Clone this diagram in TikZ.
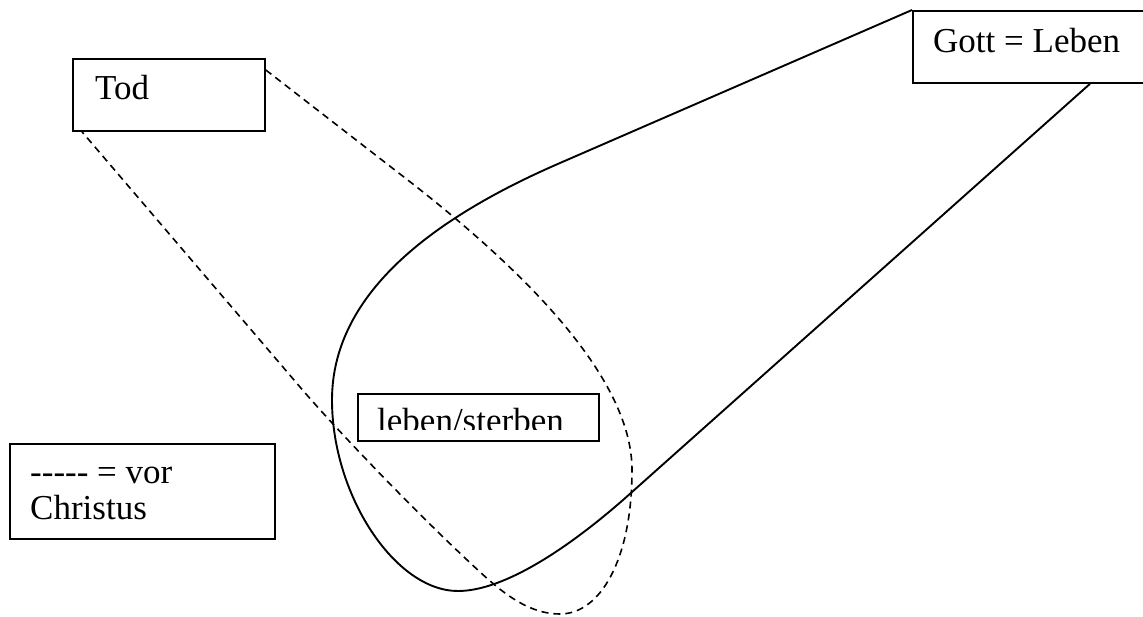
\documentclass[tikz,border=0pt]{standalone}
\usepackage{fontspec}
\setmainfont{Liberation Serif}
\usetikzlibrary{calc}
\begin{document}
\begin{tikzpicture}[x=1pt,y=-1pt,
  box/.style={draw, line width=1.8pt, fill=white, inner sep=0pt, anchor=north west},
  txt/.style={inner sep=0pt, anchor=base west, font=\fontsize{35}{36}\selectfont},
  edge/.style={line width=1.9pt, line join=round, line cap=butt},
  dashedge/.style={edge, line width=1.6pt, dash pattern=on 7pt off 5pt}]
\useasboundingbox (0,0) rectangle (1143,616);
\clip (0,0) rectangle (1143,616);
\fill[white] (0,0) rectangle (1143,616);

% boxes
\node[box, minimum width=192pt, minimum height=72pt] (tod) at (72,58) {};
\node[box, minimum width=250pt, minimum height=72pt] (gott) at (912,10) {};
\node[box, minimum width=241pt, minimum height=47pt] (leben) at (357,393) {};
\node[box, minimum width=265pt, minimum height=95pt] (legend) at (9,443) {};

% dashed outline hanging from "Tod"
\coordinate (dstart) at ($(tod.north east)+(0,12)$);
\coordinate (dend) at ($(tod.south west)+(10,0)$);
\draw[dashedge] (dstart) -- (400,174)
  .. controls (530,274) and (632,380) .. (632,470)
  .. controls (632,560) and (600,614) .. (560,614)
  .. controls (530,614) and (505,595) .. (480,572)
  .. controls (415,512) and (335,428) .. (300,387)
  -- (dend);

% solid outline hanging from "Gott = Leben"
\coordinate (sstart) at (gott.north west);
\coordinate (send) at ($(gott.south west)+(178,0)$);
\draw[edge] (sstart) -- (560,163)
  .. controls (440,215) and (332,290) .. (332,400)
  .. controls (332,495) and (395,591) .. (458,591)
  .. controls (505,591) and (572,546) .. (632,492)
  -- (send);

% labels
\node[txt] (todlabel) at (95,99) {Tod};
\node[txt] (gottlabel) at (933,52) {Gott = Leben};
\begin{scope}
  \clip (357,393) rectangle (598,429);
  \node[txt] (lebenlabel) at (377,432) {leben/sterben};
\end{scope}
\node[txt] (legendlabel) at (30,483) {-\kern0pt-\kern0pt-\kern0pt-\kern0pt- = vor};
\node[txt] (legendlabel2) at (30,519) {Christus};
\end{tikzpicture}
\end{document}
